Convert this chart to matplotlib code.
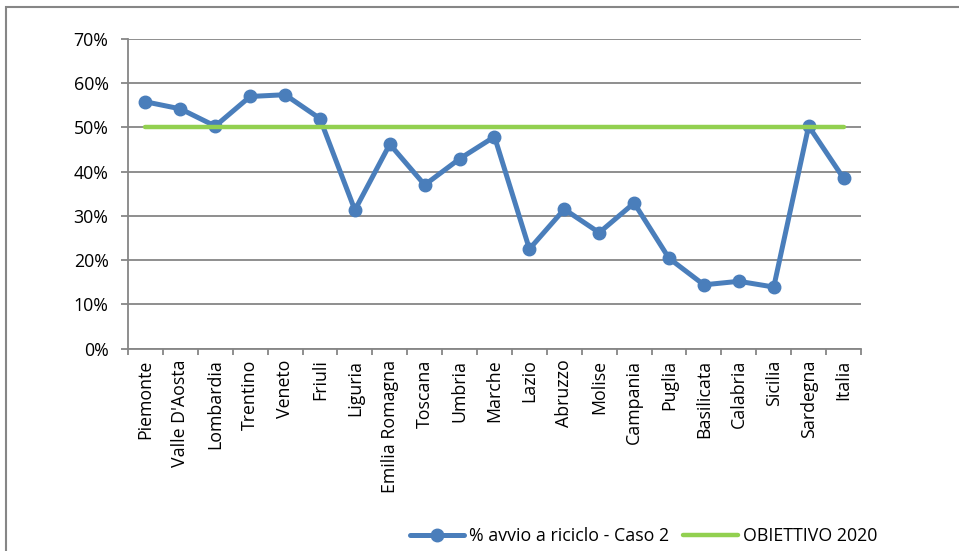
import matplotlib
matplotlib.use("Agg")
import matplotlib.pyplot as plt
from matplotlib.patches import Rectangle
from matplotlib.ticker import FuncFormatter, FixedLocator

plt.rcParams['font.family'] = ['Open Sans', 'DejaVu Sans']

regioni = ["Piemonte", "Valle D'Aosta", "Lombardia", "Trentino", "Veneto", "Friuli",
           "Liguria", "Emilia Romagna", "Toscana", "Umbria", "Marche", "Lazio",
           "Abruzzo", "Molise", "Campania", "Puglia", "Basilicata", "Calabria",
           "Sicilia", "Sardegna", "Italia"]
avvio_riciclo = [0.558, 0.542, 0.503, 0.570, 0.574, 0.520, 0.313, 0.462, 0.370,
                 0.429, 0.479, 0.225, 0.315, 0.262, 0.329, 0.204, 0.144, 0.152,
                 0.139, 0.503, 0.385]
obiettivo = [0.50] * len(regioni)

blu = "#4A7EBB"
verde = "#92D050"
grigio = "#868686"
fs = 12.8

fig = plt.figure(figsize=(9.59, 5.51), dpi=100)
ax = fig.add_axes([128 / 959, 1 - 348.5 / 551, (861 - 128) / 959, (348.5 - 39) / 551])

x = list(range(len(regioni)))
ax.plot(x, avvio_riciclo, color=blu, lw=3.6, marker="o", markersize=9,
        solid_joinstyle="round", solid_capstyle="round",
        label="% avvio a riciclo - Caso 2", zorder=3)
ax.plot(x, obiettivo, color=verde, lw=3.2, solid_capstyle="round",
        label="OBIETTIVO 2020", zorder=4)

ax.set_xlim(-0.5, len(regioni) - 0.5)
ax.set_ylim(0, 0.7)
ax.set_yticks([i / 10 for i in range(8)])
ax.yaxis.set_major_formatter(FuncFormatter(lambda v, p: f"{round(v * 100)}%"))
ax.yaxis.grid(True, color=grigio, lw=1.3)
ax.set_axisbelow(True)

ax.set_xticks(x)
ax.set_xticklabels(regioni, rotation=90, fontsize=fs)
ax.tick_params(axis="x", which="major", length=0, pad=8)
ax.xaxis.set_minor_locator(FixedLocator([i - 0.5 for i in range(len(regioni) + 1)]))
ax.tick_params(axis="x", which="minor", length=4.3, width=1.3, color=grigio)
ax.tick_params(axis="y", length=5, width=1.3, color=grigio, labelsize=fs, pad=9)

for s in ["top", "right"]:
    ax.spines[s].set_visible(False)
for s in ["left", "bottom"]:
    ax.spines[s].set_color(grigio)
    ax.spines[s].set_linewidth(1.3)

leg = fig.legend(loc="center", bbox_to_anchor=(643.5 / 959, 1 - 536 / 551), ncol=2,
                 frameon=False, fontsize=fs, handlelength=3.05, handletextpad=0.28,
                 columnspacing=0.78, borderpad=0, borderaxespad=0)

fig.patches.append(Rectangle((6 / 959, -0.1), 1.1, 1.1 - 7 / 551,
                             transform=fig.transFigure, fill=False,
                             edgecolor=grigio, lw=1.5))

fig.savefig("out.png", dpi=100)
